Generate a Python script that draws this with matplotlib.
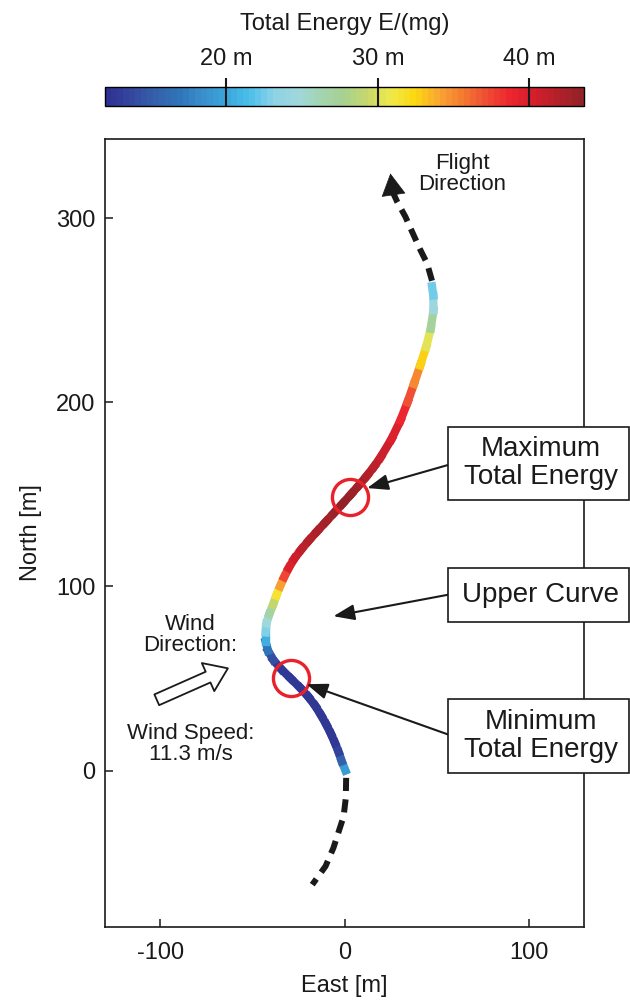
import matplotlib
matplotlib.use("Agg")
import matplotlib.pyplot as plt
import numpy as np
from matplotlib.collections import LineCollection
from matplotlib.colors import LinearSegmentedColormap, Normalize
from matplotlib.patches import FancyArrowPatch, Rectangle
from matplotlib.cm import ScalarMappable
import matplotlib.transforms as mtransforms

plt.rcParams['font.family'] = ['Liberation Sans', 'DejaVu Sans']
plt.rcParams['axes.unicode_minus'] = False

# trajectory (East, North) and total energy E/(mg) along the upper curve
east = [0.5, -1.5, -3.2, -5.2, -7.4, -9.9, -12.7, -15.8, -19.6, -24.1, -29.2, -34.3,
        -38.6, -41.5, -42.8, -42.8, -42.3, -40.8, -38.8, -37, -35, -32.8, -30.3, -27.3,
        -23.5, -19.3, -14.8, -10.2, -5.6, -1.0, 3.5, 7.9, 12.1, 16, 19.5, 25.5, 30.3,
        34.2, 37.7, 41.1, 44.3, 46.8, 48.3, 48.2, 47.5]
north = [0, 5, 10, 15, 20, 25, 30, 35, 40, 45, 50, 55, 60, 65, 70, 75, 80, 85, 90, 95,
         100, 105, 110, 115, 120, 125, 130, 135, 140, 145, 150, 155, 160, 165, 170, 180,
         190, 200, 210, 220, 230, 240, 250, 258, 263]
energy = [22, 17, 14, 12.5, 12.5, 12.5, 12.5, 12.5, 12.5, 12.5, 12.5, 12.5, 13, 15, 19,
          22, 24, 26, 28, 30, 33, 36, 39, 40.5, 41, 41.5, 42, 42.5, 43, 43.3, 43.3, 43,
          42.5, 41.5, 41, 40.5, 39.5, 38, 36, 34, 31.5, 29, 25.5, 23, 22]

# dashed continuation before and after the curve
before_e = [0.9, 0.7, -0.5, -3.1, -6, -10.3, -17.5]
before_n = [-4, -15, -25, -33, -42, -52, -62]
after_e = [47.5, 44.8, 41.2, 36.7, 33.1, 28.6, 26.5]
after_n = [266, 275.5, 282.7, 292.6, 300.7, 308.9, 313.5]
flight_tip = (24.9, 324.3)

min_point = (-29.3, 50.3)
max_point = (2.9, 148.8)

cb_ticks = [20, 30, 40]
cb_labels = ['20 m', '30 m', '40 m']
e_min, e_max = 12, 43.6

cmap = LinearSegmentedColormap.from_list('energy', [
    '#2e3192', '#34479e', '#3560ab', '#2f74b8', '#3a8fcc', '#3aa6dc', '#4cc0ea',
    '#8dd3e6', '#a0d7dd', '#a4d4b0', '#a6d18f', '#c8d86a', '#f0e94a', '#fcd80f',
    '#f9a633', '#f47a30', '#ef4d34', '#ed2530', '#d41f2b', '#b3202a', '#932228'], N=80)
norm = Normalize(e_min, e_max)

fig = plt.figure(figsize=(6.3, 10), dpi=100)
ax = fig.add_axes([105 / 630, 73 / 1000, 479 / 630, 788 / 1000])
ax.set_xlim(-130, 130)
ax.set_ylim(-85, 343)

pts = np.column_stack([east, north])
segs = np.stack([pts[:-1], pts[1:]], axis=1)
seg_e = (np.array(energy[:-1]) + np.array(energy[1:])) / 2
lc = LineCollection(segs, cmap=cmap, norm=norm, linewidths=6.0, capstyle='projecting')
lc.set_array(seg_e)
ax.add_collection(lc)

ax.plot(before_e, before_n, color='#1a1a1a', lw=4.3, dashes=(2.2, 1.4),
        dash_capstyle='butt')
ax.plot(after_e, after_n, color='#1a1a1a', lw=4.3, dashes=(2.2, 1.4),
        dash_capstyle='butt')
ax.add_patch(FancyArrowPatch((after_e[-1], after_n[-1]), flight_tip,
                             arrowstyle='-|>,head_length=1.0,head_width=0.55',
                             mutation_scale=15, color='#1a1a1a', lw=0.5,
                             shrinkA=0, shrinkB=0))

for p in (min_point, max_point):
    ax.plot(*p, marker='o', ms=26, mfc='none', mec='#e8212a', mew=2.4)

arrow_kw = dict(arrowstyle='-|>,head_length=0.8,head_width=0.3', mutation_scale=16,
                color='#1a1a1a', lw=1.5, shrinkA=0, shrinkB=0)
ax.annotate('', xy=(12.3, 153.4), xytext=(56.4, 166), arrowprops=arrow_kw)
ax.annotate('', xy=(-6, 83.8), xytext=(56.4, 95.5), arrowprops=arrow_kw)
ax.annotate('', xy=(-20.6, 46.9), xytext=(56.4, 19.5), arrowprops=arrow_kw)

# wind arrow (hollow)
ax.add_patch(FancyArrowPatch((-101.9, 38.4), (-63.3, 55.5),
                             arrowstyle='simple,head_width=1.7,head_length=1.2,tail_width=0.65',
                             mutation_scale=13, fc='white', ec='#1a1a1a', lw=1.3,
                             shrinkA=0, shrinkB=0))
ax.text(-83.5, 73.5, 'Wind\nDirection:', ha='center', va='center', fontsize=16,
        linespacing=1.0, color='#1a1a1a')
ax.text(-83.5, 14.6, 'Wind Speed:\n11.3 m/s', ha='center', va='center', fontsize=16,
        linespacing=1.0, color='#1a1a1a')
ax.text(64, 324.2, 'Flight\nDirection', ha='center', va='center', fontsize=16,
        linespacing=1.0, color='#1a1a1a')

ax.set_xticks([-100, 0, 100])
ax.set_yticks([0, 100, 200, 300])
ax.tick_params(direction='in', length=6, width=1.1, labelsize=17, colors='#1a1a1a')
ax.tick_params(axis='x', pad=11)
ax.tick_params(axis='y', pad=7)
for s in ax.spines.values():
    s.set_linewidth(1.2)
    s.set_color('#1a1a1a')
ax.set_xlabel('East [m]', fontsize=17, color='#1a1a1a', labelpad=8)
ax.set_ylabel('North [m]', fontsize=17, color='#1a1a1a', labelpad=10)

# annotation boxes (partly outside the axes)
boxes = [((448, 427, 629, 500), 'Maximum\nTotal Energy'),
         ((448, 568, 629, 622), 'Upper Curve'),
         ((448, 699, 629, 773), 'Minimum\nTotal Energy')]
for (x0, y0, x1, y1), label in boxes:
    fig.patches.append(Rectangle((x0 / 630, 1 - y1 / 1000), (x1 - x0) / 630,
                                 (y1 - y0) / 1000, transform=fig.transFigure,
                                 fc='white', ec='#1a1a1a', lw=1.2, zorder=5))
    fig.text(541 / 630, 1 - (y0 + y1) / 2000, label, ha='center', va='center',
             fontsize=20, linespacing=1.1, color='#1a1a1a', zorder=6)

# colorbar
cax = fig.add_axes([105 / 630, 1 - 106 / 1000, 479 / 630, 19 / 1000])
cb = fig.colorbar(ScalarMappable(norm=norm, cmap=cmap), cax=cax, orientation='horizontal')
cb.outline.set_linewidth(1.0)
cax.xaxis.set_ticks_position('top')
cax.set_xticks(cb_ticks)
cax.set_xticklabels(cb_labels)
cax.tick_params(length=0, labelsize=17, pad=12, colors='#1a1a1a')
trans = mtransforms.blended_transform_factory(cax.transData, cax.transAxes)
cax.vlines(cb_ticks, 0, 1.45, transform=trans, colors='#1a1a1a', lw=1.5, clip_on=False)
fig.text(344.5 / 630, 1 - 24 / 1000, 'Total Energy E/(mg)', ha='center', va='center',
         fontsize=17, color='#1a1a1a')

fig.savefig('out.png', dpi=100)
